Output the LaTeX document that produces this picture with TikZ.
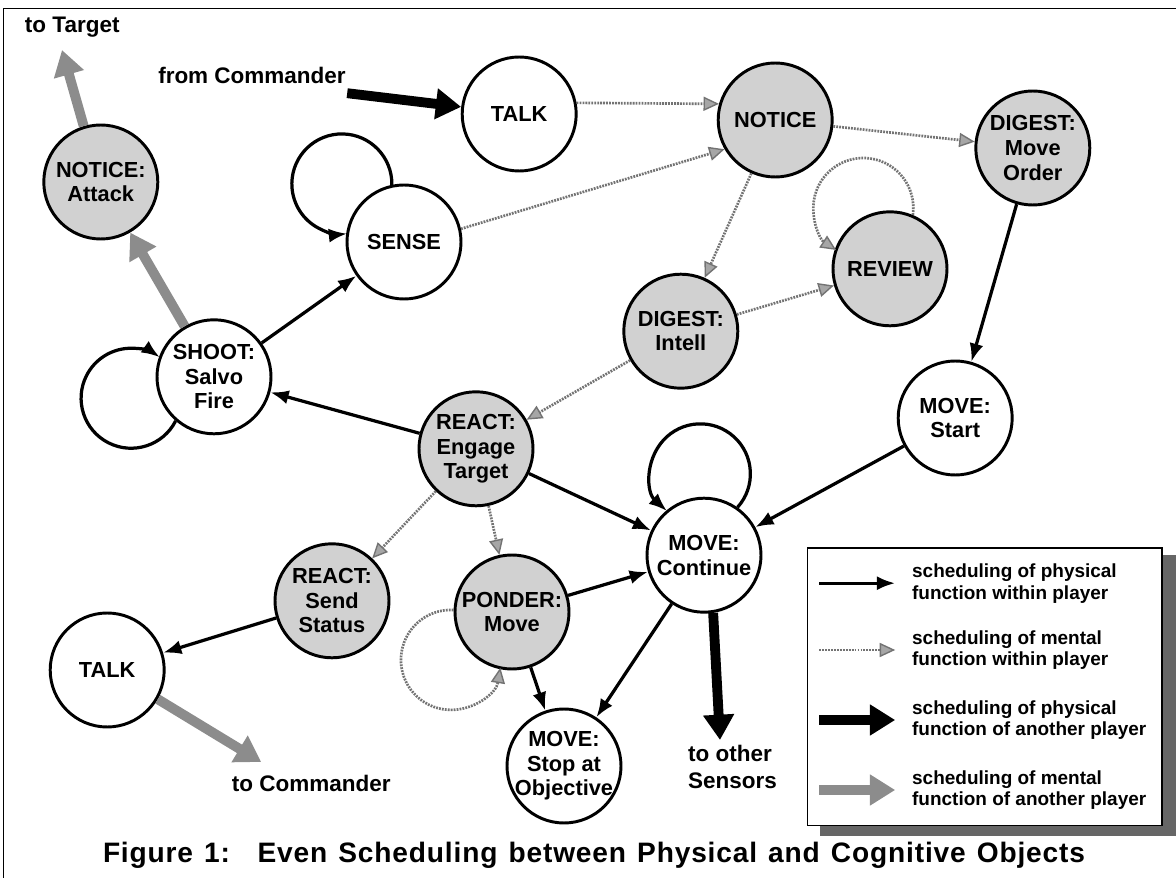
\documentclass[tikz,border=0pt]{standalone}
\usepackage{fontspec}
\setmainfont{Liberation Sans}
\usepackage{tikz}
\usetikzlibrary{arrows.meta}

\begin{document}
\begin{tikzpicture}[
    state/.style={circle, draw, line width=2.1pt, minimum size=2.85cm, inner sep=-12pt,
        align=center, font=\bfseries\fontsize{15.5}{17.5}\selectfont},
    mstate/.style={state, fill=black!18},
    phys/.style={line width=2.3pt, -{Latex[length=13pt,width=10pt]}},
    ment/.style={draw=black!55, line width=1.9pt, dash pattern=on 1.3pt off 0.8pt,
        -{Triangle[length=11pt,width=10pt,fill=black!35,line width=1pt]}},
    physx/.style={line width=7pt, -{Triangle[length=18pt,width=21pt]}},
    mentx/.style={draw=black!45, line width=7pt, -{Triangle[length=18pt,width=21pt]}},
    lbl/.style={font=\bfseries\fontsize{16}{19}\selectfont, align=left},
    key/.style={font=\bfseries\fontsize{13.5}{15.5}\selectfont, align=left, anchor=west}
]
    \useasboundingbox (0,0) rectangle (29.4,-21.95);
    \draw[line width=0.8pt] (0.08,-23) -- (0.08,-0.22) -- (29.6,-0.22);

    % players
    \node[mstate] at (2.52,-4.55) (noticeA) {NOTICE:\\Attack};
    \node[state] at (12.98,-2.85) (talkA) {TALK};
    \node[state] at (10.1,-6.05) (sense) {SENSE};
    \node[mstate] at (19.38,-3.0) (notice) {NOTICE};
    \node[mstate] at (25.82,-3.7) (digestM) {DIGEST:\\Move\\Order};
    \node[mstate] at (22.25,-6.72) (review) {REVIEW};
    \node[mstate] at (17.02,-8.28) (digestI) {DIGEST:\\Intell};
    \node[state] at (5.35,-9.42) (shoot) {SHOOT:\\Salvo\\Fire};
    \node[state] at (23.88,-10.45) (moveS) {MOVE:\\Start};
    \node[mstate] at (11.9,-11.22) (react) {REACT:\\Engage\\Target};
    \node[state] at (17.6,-13.88) (moveC) {MOVE:\\Continue};
    \node[mstate] at (8.3,-15.02) (send) {REACT:\\Send\\Status};
    \node[mstate] at (12.8,-15.3) (ponder) {PONDER:\\Move};
    \node[state] at (2.68,-16.75) (talkB) {TALK};
    \node[state] at (14.1,-19.15) (stop) {MOVE:\\Stop at\\Objective};

    % outside ends
    \node[lbl, anchor=west] at (0.5,-0.68) (toTarget) {to Target};
    \node[lbl] at (6.3,-1.88) (fromCmd) {from Commander};
    \node[lbl] at (7.78,-19.58) (toCmdText) {to Commander};
    \node[lbl, anchor=west] at (17.08,-19.18) (toSensors) {to other\\Sensors};
    \coordinate (commander) at (8.68,-2.33);
    \coordinate (target) at (1.55,-1.25);
    \coordinate (toCmd) at (6.53,-19.05);
    \coordinate (sensors) at (18.0,-18.5);

    % physical
    \draw[phys] (shoot) -- (sense);
    \draw[phys] (react) -- (shoot);
    \draw[phys] (react) -- (moveC);
    \draw[phys] (digestM) -- (moveS);
    \draw[phys] (moveS) -- (moveC);
    \draw[phys] (send) -- (talkB);
    \draw[phys] (ponder) -- (moveC);
    \draw[phys] (ponder) -- (stop);
    \draw[phys] (moveC) -- (stop);
    \draw[phys] (sense.102) arc[start angle=-1, end angle=276, radius=1.25];
    \draw[phys] (shoot.229) arc[start angle=-27, end angle=-305, radius=1.25];
    \draw[phys] (moveC.55) arc[start angle=-42, end angle=228, radius=1.25];

    % mental
    \draw[ment] (talkA.11) -- (notice.164);
    \draw[ment] (sense.13) -- (notice.210);
    \draw[ment] (notice) -- (digestM);
    \draw[ment] (notice) -- (digestI);
    \draw[ment] (digestI) -- (review);
    \draw[ment] (digestI) -- (react);
    \draw[ment] (react) -- (send);
    \draw[ment] (react) -- (ponder);
    \draw[ment] (review.67) arc[start angle=-8, end angle=237, radius=1.25];
    \draw[ment] (ponder.178) arc[start angle=87, end angle=351, radius=1.25];

    % to and from other players
    \draw[physx] (commander) -- (talkA.173);
    \draw[physx] (moveC.279) -- (sensors);
    \draw[mentx] (noticeA.107) -- (target);
    \draw[mentx] (shoot) -- (noticeA);
    \draw[mentx] (talkB.-30) -- (toCmd);

    % key
    \fill[black!60] (20.5,-13.88) rectangle (29.5,-20.9);
    \draw[line width=0.8pt, fill=white] (20.18,-13.7) rectangle (29.05,-20.63);
    \node[key] at (22.68,-14.58) (k1) {scheduling of physical\\function within player};
    \node[key] at (22.68,-16.25) (k2) {scheduling of mental\\function within player};
    \node[key] at (22.68,-18.0) (k3) {scheduling of physical\\function of another player};
    \node[key] at (22.68,-19.75) (k4) {scheduling of mental\\function of another player};
    \draw[phys] ([xshift=-2.2cm]k1.west) -- ([xshift=-0.3cm]k1.west);
    \draw[ment] ([xshift=-2.2cm]k2.west) -- ([xshift=-0.3cm]k2.west);
    \draw[physx] ([xshift=-2.2cm]k3.west) -- ([xshift=-0.3cm]k3.west);
    \draw[mentx] ([xshift=-2.2cm]k4.west) -- ([xshift=-0.3cm]k4.west);

    \node[font=\bfseries\fontsize{20}{23}\selectfont, anchor=base] at (14.85,-21.55) (caption)
        {\makebox[24.55cm][s]{\addfontfeature{LetterSpace=3}Figure 1:\hspace{0.4em} Even Scheduling between Physical and Cognitive Objects}};
\end{tikzpicture}
\end{document}
